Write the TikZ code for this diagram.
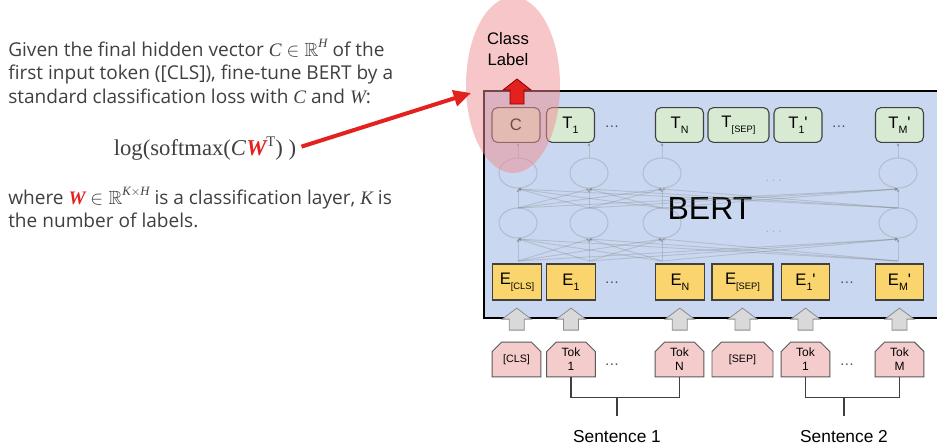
\documentclass[tikz,border=0pt]{standalone}
\usepackage{amsmath,amssymb}
\usepackage[no-math]{fontspec}
\setmainfont{Open Sans}
\newfontfamily\diag{Liberation Sans}
\newfontfamily\serif{Liberation Serif}
\usetikzlibrary{arrows.meta,shapes.misc,calc}

\definecolor{bertblue}{HTML}{C9D8F0}
\definecolor{tgreen}{HTML}{D9EAD3}
\definecolor{eyellow}{HTML}{FAD56E}
\definecolor{tokpink}{HTML}{F4CCCC}
\definecolor{clspink}{HTML}{F08E92}
\definecolor{redarrow}{HTML}{E3211F}
\definecolor{textgray}{HTML}{404040}
\definecolor{arrowgray}{HTML}{D9D9D9}

% lowered subscript for the token labels
\newcommand\lsub[1]{\raisebox{-0.55ex}{\fontsize{8}{9}\selectfont #1}}
\newcommand\tsub[1]{\raisebox{-0.55ex}{\fontsize{7}{8}\selectfont #1}}
% serif italic symbols in the prose
\newcommand\sv[1]{{\serif\itshape #1}}
\newcommand\rW{{\color{redarrow}\serif\bfseries\itshape W}}
\newcommand\sups[1]{\raisebox{0.85ex}{\fontsize{9.5}{10}\selectfont\serif\itshape #1}}

\tikzset{
  px/.style={x=0.75pt,y=-0.75pt},
  prose/.style={anchor=base west,inner sep=0,text=textgray,font=\fontsize{14.3}{16}\selectfont},
  tbox/.style={draw=black!75,fill=tgreen,rounded corners=4pt,line width=0.8pt,
    minimum height=26pt,minimum width=36pt,inner sep=0,font=\diag\fontsize{12.5}{14}\selectfont},
  ebox/.style={draw=black!75,fill=eyellow,line width=0.8pt,
    minimum height=27pt,minimum width=36.5pt,inner sep=0,font=\diag\fontsize{12.5}{14}\selectfont},
  tokbox/.style={chamfered rectangle,chamfered rectangle corners={north west,north east},
    chamfered rectangle xsep=3.5pt,chamfered rectangle ysep=3.5pt,
    draw=black!65,fill=tokpink,line width=0.7pt,minimum height=26pt,minimum width=36.5pt,
    inner sep=0,align=center,font=\diag\fontsize{9}{10.5}\selectfont},
  widebox/.style={minimum width=45.75pt},
  dots/.style={font=\diag\fontsize{11}{12}\selectfont,text=black!70,inner sep=0},
  gridline/.style={draw=black!50,draw opacity=0.3,line width=0.7pt,
    -{Stealth[length=2.5pt,width=2.5pt]}},
  gridnode/.style={draw=black!50,draw opacity=0.3,line width=0.8pt},
  bracket/.style={draw=black!75,line width=0.9pt},
  upblock/.pic={\draw[fill=arrowgray,draw=black!45,line width=0.6pt]
    (0,-13) -- (14.5,-2) -- (7.5,-2) -- (7.5,9) -- (-7.5,9) -- (-7.5,-2) -- (-14.5,-2) -- cycle;}
}

\begin{document}
\begin{tikzpicture}[px]
\clip (0,0) rectangle (937,447);
\fill[white] (0,0) rectangle (937,447);

% explanatory text
\node[prose] (l1) at (8,56) {Given the final hidden vector \sv{C} $\in \mathbb{R}$\sups{H} of the};
\node[prose] (l2) at (8,79.5) {first input token ([CLS]), fine-tune BERT by a};
\node[prose] (l3) at (8,103) {standard classification loss with \sv{C} and \sv{W}:};
\node[prose,anchor=base,font=\serif\fontsize{17}{19}\selectfont] (formula) at (205,155)
  {log(softmax(\textit{C}\rW\raisebox{0.85ex}{\fontsize{11}{11}\selectfont T}) )};
\node[prose] (l4) at (8,204) {where \rW{} $\in \mathbb{R}$\sups{K$\times$H} is a classification layer, \sv{K} is};
\node[prose] (l5) at (8,227.5) {the number of labels.};

% the BERT block
\draw[fill=bertblue,line width=2.2pt] (484,91) rectangle (950,318);
\node[font=\diag\fontsize{24}{26}\selectfont,inner sep=0] (bert) at (710,208) {BERT};

% faint hidden layers
\foreach \a in {518,589,662,898}{
  \draw[gridnode] (\a,173) ellipse [x radius=19,y radius=15];
  \draw[gridnode] (\a,223) ellipse [x radius=19,y radius=15];
  \draw[gridline] (\a,158) -- (\a,143);
  \foreach \b in {518,589,662,898}{
    \draw[gridline] (\a,208) -- (\b,189);
    \draw[gridline] (\a,261) -- (\b,239);
  }
}
\node[dots,text=black!30] (gd1) at (775,181) {$\cdots$};
\node[dots,text=black!30] (gd2) at (775,232) {$\cdots$};

% output row
\node[tbox] (tc)   at (516,125)   {C};
\node[tbox] (t1)   at (570.5,125) {T\lsub{1}};
\node[dots] (td1)  at (612,127)   {\dots};
\node[tbox] (tn)   at (679.5,125) {T\lsub{N}};
\node[tbox,widebox] (tsep) at (738.5,125) {T\tsub{[SEP]}};
\node[tbox] (t1b)  at (798,125)   {T\lsub{1}\textquotesingle};
\node[dots] (td2)  at (839,127)   {\dots};
\node[tbox] (tm)   at (899.5,125) {T\lsub{M}\textquotesingle};

% embedding row
\node[ebox] (ecls) at (517,282)   {E\tsub{[CLS]}};
\node[ebox] (e1)   at (571,282)   {E\lsub{1}};
\node[dots] (ed1)  at (612,283)   {\dots};
\node[ebox] (en)   at (680,282)   {E\lsub{N}};
\node[ebox,widebox] (esep) at (742.5,282) {E\tsub{[SEP]}};
\node[ebox] (e1b)  at (805.5,282) {E\lsub{1}\textquotesingle};
\node[dots] (ed2)  at (847,283)   {\dots};
\node[ebox] (em)   at (899.5,282) {E\lsub{M}\textquotesingle};

% input tokens
\node[tokbox,font=\diag\fontsize{8}{9}\selectfont] (kcls) at (516.5,359.5) {[CLS]};
\node[tokbox] (k1)   at (571,359.5)   {Tok\\1};
\node[dots]   (kd1)  at (612,365)     {\dots};
\node[tokbox] (kn)   at (679.5,359.5) {Tok\\N};
\node[tokbox,widebox,font=\diag\fontsize{8}{9}\selectfont] (ksep) at (742.5,359.5) {[SEP]};
\node[tokbox] (k1b)  at (805.5,359.5) {Tok\\1};
\node[dots]   (kd2)  at (847,365)     {\dots};
\node[tokbox] (km)   at (899.5,359.5) {Tok\\M};

% token to embedding arrows
\foreach \e/\k in {ecls/kcls,e1/k1,en/kn,esep/ksep,e1b/k1b,em/km}
  \pic at ($(\e.south)!0.5!(\k.north)$) {upblock};

% sentence brackets
\node[font=\diag\fontsize{13}{15}\selectfont,inner sep=0] (s1) at (617,437) {Sentence 1};
\node[font=\diag\fontsize{13}{15}\selectfont,inner sep=0] (s2) at (844,437) {Sentence 2};
\draw[bracket] (k1.south) -- ++(0,20) -| (kn.south);
\draw[bracket] (k1b.south) -- ++(0,20) -| (km.south);
\coordinate (j1) at (s1.north |- 0,397);
\coordinate (j2) at (s2.north |- 0,397);
\draw[bracket] (j1) -- ++(0,19);
\draw[bracket] (j2) -- ++(0,19);

% class label highlight
\fill[clspink,opacity=0.5] (513,85) ellipse [x radius=47,y radius=88];
\node[font=\diag\fontsize{12.5}{16}\selectfont,align=center,inner sep=0] (cls) at (508,49) {Class\\Label};
\draw[fill=redarrow,draw=red!55!black,line width=0.6pt]
  (517,79) -- (531,90) -- (524,90) -- (524,104) -- (510,104) -- (510,90) -- (503,90) -- cycle;

% pointer from the loss to the class label
\coordinate (clsin) at (471,93);
\draw[redarrow,line width=3pt,-{Triangle[length=13pt,width=12pt]},shorten <=4pt]
  (formula.east) -- (clsin);
\end{tikzpicture}
\end{document}
